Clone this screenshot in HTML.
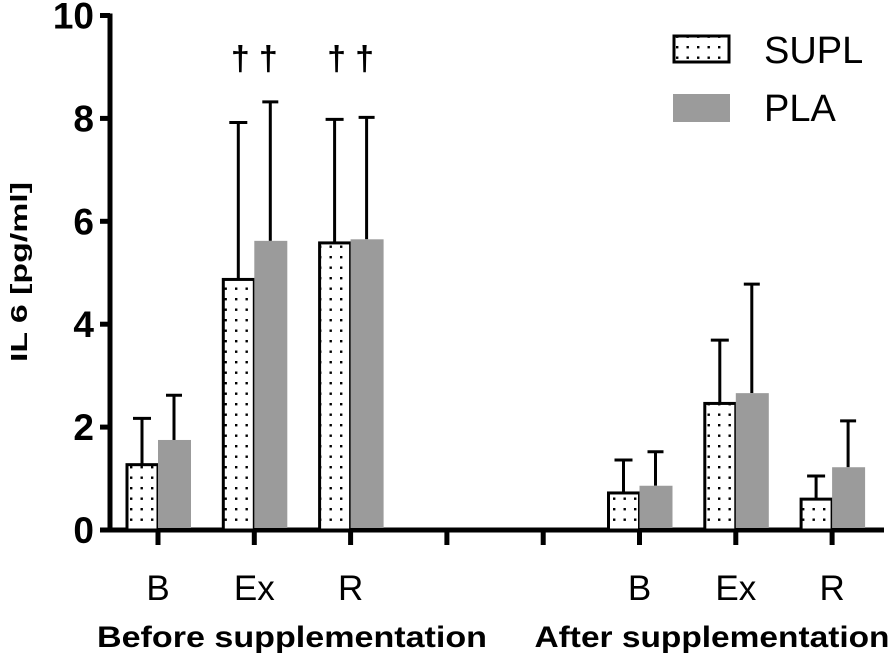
<!DOCTYPE html>
<html><head><meta charset="utf-8"><style>
body{margin:0;background:#fff}
svg text{font-family:"Liberation Sans",sans-serif}
</style></head><body>
<svg id="c" width="894" height="656" xmlns="http://www.w3.org/2000/svg">
<defs><pattern id="dots" width="10.5" height="10.5" patternUnits="userSpaceOnUse"><rect width="10.5" height="10.5" fill="#fff"/><rect x="4" y="4" width="2.4" height="2.4" fill="#000"/></pattern></defs>
<g id="g"></g>
</svg>
<script>
const categories=["B","Ex","R","","","B","Ex","R"];
const suplMean=[1.27,4.87,5.58,null,null,0.72,2.46,0.60];
const suplErr=[0.90,3.05,2.40,null,null,0.64,1.23,0.45];
const plaMean=[1.75,5.62,5.65,null,null,0.86,2.66,1.22];
const plaErr=[0.87,2.70,2.37,null,null,0.66,2.12,0.90];
const yTicks=[0,2,4,6,8,10];
const daggers=[1,2];
const NS="http://www.w3.org/2000/svg";
const g=document.getElementById('g');
const y=v=>530-v*51.45;
const x=i=>158+i*96.3;
function el(t,a,txt){const e=document.createElementNS(NS,t);for(const k in a)e.setAttribute(k,a[k]);if(txt!=null)e.textContent=txt;g.appendChild(e);return e;}
let e=el('line',{x1:110,y1:y(10)-2,x2:110,y2:532,stroke:'#000','stroke-width':5});


e=el('line',{x1:108,y1:530,x2:884,y2:530,stroke:'#000','stroke-width':5});


yTicks.forEach(t=>{
 let l=el('line',{x1:100,y1:y(t),x2:110,y2:y(t),stroke:'#000','stroke-width':5});
 
 
 let tx=el('text',{x:94,y:y(t)+13,'text-anchor':'end','font-size':37,'font-weight':'bold'},t);
 
 
});
categories.forEach((c,i)=>{
 let l=el('line',{x1:x(i),y1:530,x2:x(i),y2:545,stroke:'#000','stroke-width':5});
 
 
 if(c){let t=el('text',{x:x(i),y:600,'text-anchor':'middle','font-size':35},c);
 
 }
 if(suplMean[i]!=null){
  const sx=x(i)-31;
  let eb=el('path',{d:`M${sx+15} ${y(suplMean[i])}V${y(suplMean[i]+suplErr[i])}M${sx+6} ${y(suplMean[i]+suplErr[i])}H${sx+24}`,stroke:'#000','stroke-width':3,fill:'none'});
  
  
  let b=el('rect',{x:sx,y:y(suplMean[i]),width:31,height:530-y(suplMean[i]),fill:'url(#dots)',stroke:'#000','stroke-width':3});
  
  
  const px=x(i);
  let eb2=el('path',{d:`M${px+16} ${y(plaMean[i])}V${y(plaMean[i]+plaErr[i])}M${px+8} ${y(plaMean[i]+plaErr[i])}H${px+24}`,stroke:'#000','stroke-width':3,fill:'none'});
  
  
  let b2=el('rect',{x:px,y:y(plaMean[i]),width:33,height:528-y(plaMean[i]),fill:'#9b9b9b'});
  
  
 }
});
daggers.forEach(i=>{
 let t=el('text',{x:x(i)-14,y:70,'text-anchor':'middle','font-size':34,'font-weight':'bold'},'†');
 
 
 let t2=el('text',{x:x(i)+14,y:70,'text-anchor':'middle','font-size':34,'font-weight':'bold'},'†');
 
 
});
e=el('text',{x:-272,y:27,transform:'rotate(-90)','text-anchor':'middle','font-size':23,'font-weight':'bold',textLength:180,lengthAdjust:'spacingAndGlyphs'},'IL 6 [pg/ml]');


e=el('text',{x:292,y:647,'text-anchor':'middle','font-size':30,'font-weight':'bold',textLength:390,lengthAdjust:'spacingAndGlyphs'},'Before supplementation');


e=el('text',{x:712,y:647,'text-anchor':'middle','font-size':30,'font-weight':'bold',textLength:355,lengthAdjust:'spacingAndGlyphs'},'After supplementation');


e=el('rect',{x:674,y:36,width:55,height:26,fill:'url(#dots)',stroke:'#000','stroke-width':3});


e=el('text',{x:764,y:63,'font-size':38},'SUPL');


e=el('rect',{x:673,y:94,width:57,height:28,fill:'#9b9b9b'});


e=el('text',{x:764,y:121,'font-size':38},'PLA');


</script>
</body></html>
